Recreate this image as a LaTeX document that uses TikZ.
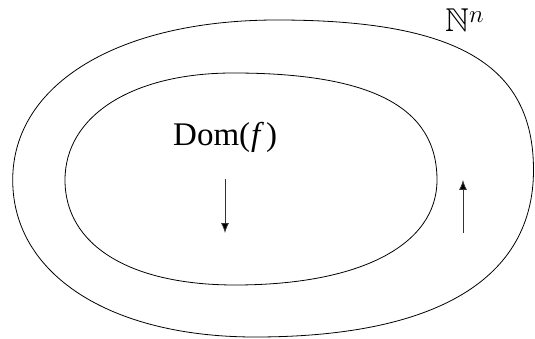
\documentclass[tikz,border=0pt]{standalone}
\usepackage{amssymb}
\usepackage{fontspec}
\setmainfont{Liberation Serif}
\usetikzlibrary{arrows.meta}
\begin{document}
\begin{tikzpicture}[x=1pt,y=-1pt,
  curve/.style={line width=0.8pt},
  flow/.style={line width=0.8pt,draw=black!80,-{Latex[length=10pt,width=8pt,fill=black]}},
  lbl/.style={inner sep=0pt,anchor=base west,font=\fontsize{33}{38}\selectfont}]
\useasboundingbox (0,0) rectangle (535,339);
% outer region N^n
\draw[curve] (12.7,180) .. controls (12.7,84) and (118.4,20) .. (277,20)
  .. controls (457.6,20) and (533.5,65) .. (533.5,170)
  .. controls (533.5,278.6) and (437,337) .. (255,337)
  .. controls (109.6,337) and (12.7,274.2) .. cycle;
% inner region Dom(f)
\draw[curve] (65,180) .. controls (65,115.8) and (132.2,73) .. (233,73)
  .. controls (371.7,73) and (437,107.2) .. (437,180)
  .. controls (437,245.1) and (360.2,285) .. (235,285)
  .. controls (129.6,285) and (65,245.1) .. cycle;
\node[lbl] (nn) at (445,32) {$\mathbb{N}^n$};
\node[lbl] (dom) at (173,146) {Dom(\kern1pt\textit{f}\kern2pt)};
\coordinate (d1) at (225,179);
\coordinate (d2) at (225,233);
\coordinate (u1) at (463,233);
\coordinate (u2) at (463,180);
\draw[flow] (d1) -- (d2);
\draw[flow] (u1) -- (u2);
\end{tikzpicture}
\end{document}
